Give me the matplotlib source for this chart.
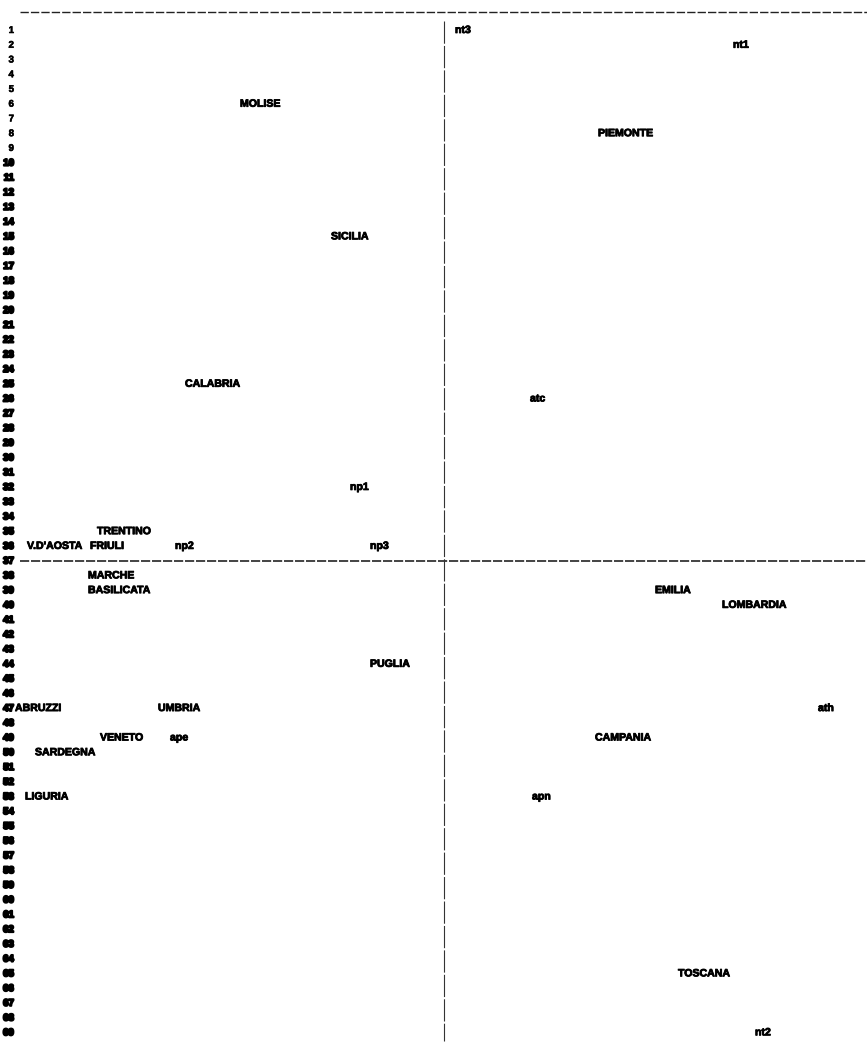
import matplotlib.pyplot as plt
import matplotlib.patheffects as pe

# Line-printer style plot: labels placed on print rows (1..69) and columns (pixel-ish x)
ROW_NUMBERS = list(range(1, 70))

LABELS = ["nt3", "nt1", "MOLISE", "PIEMONTE", "SICILIA", "CALABRIA", "atc", "np1",
          "TRENTINO", "V.D'AOSTA", "FRIULI", "np2", "np3",
          "MARCHE", "BASILICATA", "EMILIA", "LOMBARDIA", "PUGLIA",
          "ABRUZZI", "UMBRIA", "ath", "VENETO", "ape", "CAMPANIA", "SARDEGNA",
          "LIGURIA", "apn", "TOSCANA", "nt2"]
LABEL_X = [455, 733, 240, 598, 331, 185, 530, 350,
           97, 27, 90, 175, 370,
           88, 88, 655, 722, 370,
           15, 158, 818, 100, 170, 595, 35,
           25, 532, 678, 755]
LABEL_ROW = [1, 2, 6, 8, 15, 25, 26, 32,
             35, 36, 36, 36, 36,
             38, 39, 39, 40, 44,
             47, 47, 47, 49, 49, 49, 50,
             53, 53, 65, 69]

# axis crossing (column of vertical axis, row of horizontal axis)
ZERO_X = 444
ZERO_ROW = 37
TOP_ROW = -0.2

# Constants
W, H = 867, 1042
DPI = 100
ROW0_PX = 30
ROW_STEP = 14.74
FONT = ["Liberation Sans", "DejaVu Sans"]

fig = plt.figure(figsize=(W / DPI, H / DPI), dpi=DPI)
ax = fig.add_axes([0, 0, 1, 1])
ax.set_xlim(0, W)
# map rows to pixel rows
ax.set_ylim(1 + (H - ROW0_PX) / ROW_STEP, 1 - ROW0_PX / ROW_STEP)
ax.axis("off")

# row numbers down the left margin (smudged like the old printout)
for r in ROW_NUMBERS:
    blot = 0.4 if r < 10 else 1.4
    ax.text(14, r, str(r), fontsize=7, fontweight="bold", ha="right", va="center",
            family=FONT, color="black",
            path_effects=[pe.withStroke(linewidth=blot, foreground="black")])

# frame lines
ax.plot([20, W], [TOP_ROW, TOP_ROW], color="#222222", lw=1.0, ls=(0, (6, 1.5)))
ax.plot([20, W], [ZERO_ROW, ZERO_ROW], color="#111111", lw=1.1, ls=(0, (6, 1.2)))
ax.plot([ZERO_X, ZERO_X], [0.4, 69.6], color="#333333", lw=0.8, ls=(0, (20, 2)))

# point labels
for name, x, r in zip(LABELS, LABEL_X, LABEL_ROW):
    ax.text(x, r, name, fontsize=7.6, fontweight="bold", ha="left", va="center",
            family=FONT, color="black",
            path_effects=[pe.withStroke(linewidth=0.6, foreground="black")])

fig.savefig("out.png", dpi=DPI)
